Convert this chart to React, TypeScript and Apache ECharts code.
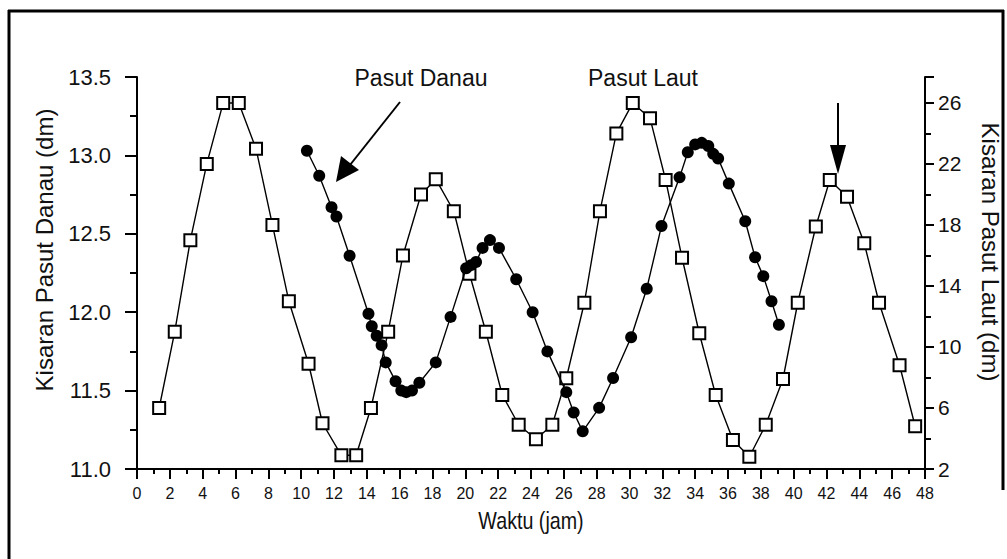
import React, { useEffect, useRef } from "react";
import * as echarts from "echarts";

// Pasut Laut (sea tide, right axis, dm) — open squares
const lautHours = [1.35, 2.3, 3.25, 4.25, 5.25, 6.2, 7.25, 8.25, 9.25, 10.45, 11.3, 12.45, 13.35, 14.25, 15.3, 16.2, 17.3, 18.2, 19.3, 20.25, 21.25, 22.25, 23.25, 24.3, 25.3, 26.15, 27.25, 28.2, 29.2, 30.2, 31.25, 32.2, 33.2, 34.25, 35.25, 36.3, 37.3, 38.3, 39.35, 40.25, 41.35, 42.2, 43.25, 44.3, 45.2, 46.45, 47.4];
const lautLevels = [6.0, 11.0, 17.0, 22.0, 26.0, 26.0, 23.0, 18.0, 13.0, 8.9, 5.0, 2.9, 2.9, 6.0, 11.0, 16.0, 20.0, 21.0, 18.9, 14.8, 11.0, 6.85, 4.9, 3.95, 4.9, 7.95, 12.9, 18.9, 24.0, 26.0, 25.0, 20.95, 15.85, 10.9, 6.85, 3.9, 2.8, 4.9, 7.9, 12.9, 17.9, 20.95, 19.85, 16.8, 12.9, 8.8, 4.8];

// Pasut Danau (lake tide, left axis, dm) — filled circles
const danauHours = [10.35, 11.1, 11.85, 12.15, 12.95, 14.1, 14.3, 14.6, 14.9, 15.15, 15.75, 16.1, 16.4, 16.75, 17.2, 18.2, 19.1, 20.05, 20.35, 20.65, 21.05, 21.5, 22.05, 23.1, 24.1, 25.0, 26.15, 26.6, 27.15, 28.15, 29.0, 30.1, 31.05, 31.95, 33.05, 33.55, 34.0, 34.4, 34.8, 35.1, 35.4, 36.05, 37.05, 37.65, 38.15, 38.65, 39.1];
const danauLevels = [13.03, 12.87, 12.67, 12.61, 12.36, 11.99, 11.91, 11.85, 11.79, 11.68, 11.56, 11.5, 11.49, 11.5, 11.55, 11.68, 11.97, 12.28, 12.3, 12.32, 12.41, 12.46, 12.41, 12.21, 12.0, 11.75, 11.49, 11.36, 11.24, 11.39, 11.58, 11.84, 12.15, 12.55, 12.86, 13.02, 13.07, 13.08, 13.06, 13.01, 12.98, 12.82, 12.58, 12.35, 12.23, 12.07, 11.92];

const xRange = [0, 48];
const leftRange = [11, 13.5];
const rightRange = [2, 27.7];

const SANS = "'Liberation Sans', Arial, sans-serif";

export default function App() {
  const ref = useRef<HTMLDivElement>(null);
  useEffect(() => {
    if (!ref.current) return;
    const chart = echarts.init(ref.current, null, { renderer: "svg" });
    const axisLine = { show: true, onZero: false, lineStyle: { color: "#000", width: 2 } };
    const laut = lautHours.map((h, i) => [h, lautLevels[i]]);
    const danau = danauHours.map((h, i) => [h, danauLevels[i]]);
    const centered = { textAlign: "center", textVerticalAlign: "middle", align: "center", verticalAlign: "middle" };
    chart.setOption({
      animation: false,
      backgroundColor: "#fff",
      grid: { left: 137, right: 82, top: 77, bottom: 90 },
      xAxis: {
        type: "value",
        min: xRange[0],
        max: xRange[1],
        interval: 2,
        axisLine,
        axisTick: { show: true, length: 10, lineStyle: { color: "#000", width: 2 } },
        minorTick: { show: true, splitNumber: 2, length: 5, lineStyle: { color: "#000", width: 2 } },
        splitLine: { show: false },
        minorSplitLine: { show: false },
        axisLabel: { margin: 16, fontSize: 16, fontFamily: SANS, color: "#111" },
      },
      yAxis: [
        {
          type: "value",
          position: "left",
          min: leftRange[0],
          max: leftRange[1],
          interval: 0.5,
          axisLine,
          axisTick: { show: true, length: 12, lineStyle: { color: "#000", width: 2 } },
          minorTick: { show: true, splitNumber: 2, length: 7, lineStyle: { color: "#000", width: 2 } },
          splitLine: { show: false },
          minorSplitLine: { show: false },
          axisLabel: { margin: 26, fontSize: 22, fontFamily: SANS, color: "#111", formatter: (v: number) => v.toFixed(1) },
        },
        {
          type: "value",
          position: "right",
          min: rightRange[0],
          max: rightRange[1],
          interval: 4,
          axisLine,
          axisTick: { show: true, length: 9, lineStyle: { color: "#000", width: 2 } },
          minorTick: { show: true, splitNumber: 2, length: 6, lineStyle: { color: "#000", width: 2 } },
          splitLine: { show: false },
          minorSplitLine: { show: false },
          axisLabel: { margin: 13, fontSize: 21, fontFamily: SANS, color: "#111", showMaxLabel: false },
        },
      ],
      series: [
        {
          name: "Pasut Laut",
          type: "line",
          yAxisIndex: 1,
          data: laut,
          symbol: "emptyRect",
          symbolSize: 12,
          lineStyle: { color: "#000", width: 1.4 },
          itemStyle: { color: "#000", borderColor: "#000", borderWidth: 1.6 },
          z: 2,
        },
        {
          name: "Pasut Danau",
          type: "line",
          yAxisIndex: 0,
          data: danau,
          symbol: "circle",
          symbolSize: 12,
          lineStyle: { color: "#000", width: 1.4 },
          itemStyle: { color: "#000" },
          z: 3,
        },
      ],
      graphic: [
        { type: "line", shape: { x1: 9, y1: 10, x2: 9, y2: 559 }, style: { stroke: "#000", lineWidth: 3 } },
        { type: "line", shape: { x1: 8, y1: 11, x2: 1004, y2: 11 }, style: { stroke: "#000", lineWidth: 3 } },
        { type: "line", shape: { x1: 1003, y1: 10, x2: 1003, y2: 490 }, style: { stroke: "#000", lineWidth: 3 } },
        { type: "text", x: 421, y: 78, style: { text: "Pasut Danau", font: `23px ${SANS}`, fill: "#111", ...centered } },
        { type: "text", x: 643, y: 78, style: { text: "Pasut Laut", font: `23px ${SANS}`, fill: "#111", ...centered } },
        { type: "text", x: 44, y: 250, rotation: Math.PI / 2, style: { text: "Kisaran Pasut Danau (dm)", font: `24px ${SANS}`, fill: "#111", ...centered } },
        { type: "text", x: 990, y: 252, rotation: -Math.PI / 2, style: { text: "Kisaran Pasut Laut (dm)", font: `24px ${SANS}`, fill: "#111", ...centered } },
        { type: "text", x: 531, y: 521, scaleX: 0.82, style: { text: "Waktu (jam)", font: `24px ${SANS}`, fill: "#111", ...centered } },
        // arrow to lake-tide curve
        { type: "line", shape: { x1: 400, y1: 102, x2: 350, y2: 165 }, style: { stroke: "#000", lineWidth: 2 } },
        { type: "polygon", shape: { points: [[336, 182], [341, 156], [359, 170]] }, style: { fill: "#000" } },
        // vertical arrow
        { type: "line", shape: { x1: 838, y1: 103, x2: 838, y2: 150 }, style: { stroke: "#000", lineWidth: 2 } },
        { type: "polygon", shape: { points: [[830, 145], [846, 145], [838, 174]] }, style: { fill: "#000" } },
      ],
    });
    return () => chart.dispose();
  }, []);
  return <div ref={ref} style={{ position: "fixed", left: 0, top: 0, width: 1007, height: 559, background: "#fff" }} />;
}
